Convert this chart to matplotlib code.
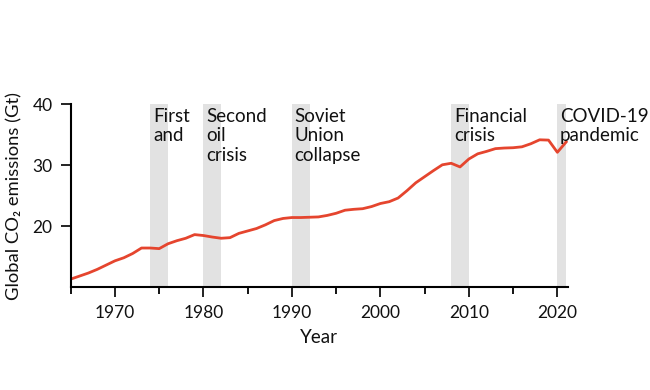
import matplotlib
matplotlib.use("Agg")
import matplotlib.pyplot as plt
from matplotlib.ticker import MultipleLocator

plt.rcParams['font.family'] = ['Lato', 'DejaVu Sans']

# global CO2 emissions, Gt
years = list(range(1965, 2022))
emissions = [11.3, 11.8, 12.3, 12.9, 13.6, 14.3, 14.8, 15.5, 16.4, 16.4,
             16.3, 17.1, 17.6, 18.0, 18.6, 18.45, 18.2, 18.0, 18.1, 18.8,
             19.2, 19.6, 20.2, 20.9, 21.25, 21.4, 21.4, 21.45, 21.5, 21.75,
             22.1, 22.6, 22.75, 22.85, 23.2, 23.7, 24.0, 24.6, 25.8, 27.1,
             28.1, 29.1, 30.05, 30.3, 29.7, 31.0, 31.85, 32.25, 32.7, 32.8,
             32.85, 33.0, 33.5, 34.15, 34.1, 32.1, 33.8]

# crisis periods (start, end, label)
crisis_start = [1974, 1980, 1990, 2008, 2020]
crisis_end = [1976, 1982, 1992, 2010, 2021]
crisis_label = ["First\nand", "Second\noil\ncrisis", "Soviet\nUnion\ncollapse",
                "Financial\ncrisis", "COVID-19\npandemic"]

fig = plt.figure(figsize=(6.5, 3.9), dpi=100)
ax = fig.add_axes([0.1088, 0.264, 0.765, 0.469])

for s, e, lab in zip(crisis_start, crisis_end, crisis_label):
    ax.axvspan(s, e, color='#e2e2e2', lw=0, zorder=1)
    ax.text(s + 0.3, 39.35, lab, ha='left', va='top', fontsize=13.5,
            linespacing=1.17, color='#111111', zorder=3)

ax.plot(years, emissions, color='#e5452e', lw=2, zorder=2)

ax.set_xlim(1965, 2021.2)
ax.set_ylim(10, 40)
ax.set_yticks([20, 30, 40])
ax.xaxis.set_major_locator(MultipleLocator(10))
ax.xaxis.set_minor_locator(MultipleLocator(5))

for side in ['top', 'right']:
    ax.spines[side].set_visible(False)
for side in ['left', 'bottom']:
    ax.spines[side].set_linewidth(1.5)

ax.tick_params(axis='both', which='major', length=7, width=1.3,
               labelsize=12.5, colors='#111111', pad=6)
ax.tick_params(axis='x', which='minor', length=5, width=1.3)

ax.set_xlabel("Year", fontsize=13.5, color='#111111', labelpad=6)
ax.set_ylabel("Global CO₂ emissions (Gt)", fontsize=13.2, color='#111111',
              labelpad=7)

fig.savefig("out.png", dpi=100)
